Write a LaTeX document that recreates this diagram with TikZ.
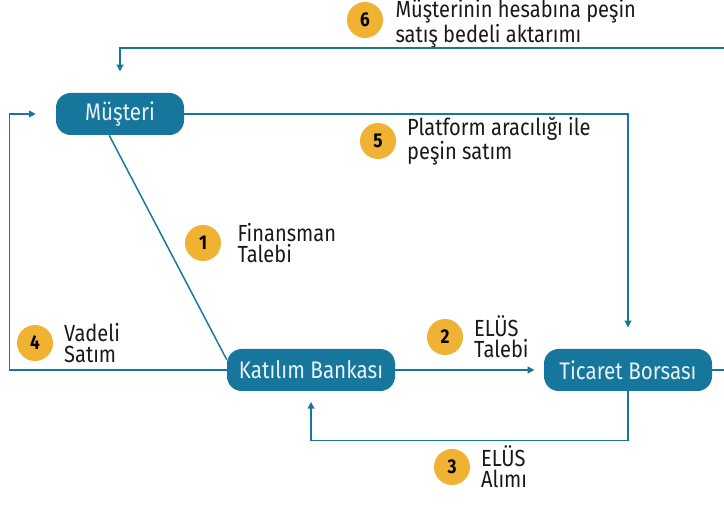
\documentclass[tikz,border=0pt]{standalone}
\usepackage{fontspec}
\setmainfont{Fira Sans}[FakeStretch=0.86]
\usepackage{xcolor}
\usetikzlibrary{positioning,arrows.meta}
\definecolor{petrol}{HTML}{16769B}
\definecolor{sun}{HTML}{F0B233}
\begin{document}
\begin{tikzpicture}[x=0.75pt,y=-0.75pt,node distance=8pt,
  actor/.style={fill=petrol,rounded corners=11pt,text=white!90!petrol,minimum height=31.5pt,inner xsep=0pt,font=\fontsize{18}{20}\selectfont},
  num/.style={circle,fill=sun,minimum size=27pt,inner sep=0pt,font=\fontsize{15}{15}\selectfont\bfseries},
  note/.style={align=left,inner sep=0pt,text=black!90,font=\fontsize{17.5}{15.8}\selectfont},
  flow/.style={draw=petrol,line width=1.1pt,-{Triangle[length=5pt,width=5pt]}}]
\useasboundingbox (0,0) rectangle (724,505);
\node[actor,minimum width=96pt] (mus) at (120,114) {Müşteri};
\node[actor,minimum width=126pt] (kb) at (311,370) {Katılım Bankası};
\node[actor,minimum width=126pt] (tb) at (628,370) {Ticaret Borsası};
\node[num] (n1) at (203,243) {1};
\node[note,right=12pt of n1] (t1) {Finansman\\Talebi};
\node[num] (n2) at (445,337) {2};
\node[note,right=of n2] (t2) {ELÜS\\Talebi};
\node[num] (n3) at (452,467) {3};
\node[note,right=of n3] (t3) {ELÜS\\Alımı};
\node[num] (n4) at (35,343) {4};
\node[note,right=of n4] (t4) {Vadeli\\Satım};
\node[num] (n5) at (378,141) {5};
\node[note,right=of n5] (t5) {Platform aracılığı ile\\peşin satım};
\node[num] (n6) at (365,20) {6};
\node[note,right=9pt of n6,yshift=-2.5pt,font=\fontsize{17.5}{15}\selectfont] (t6) {Müşterinin hesabına peşin\\satış bedeli aktarımı};
\draw[flow,-] (mus.-117) -- (kb.173);
\draw[flow,shorten >=7pt] (kb.east) -- (tb.west);
\draw[flow,shorten >=8pt] (tb.south) -- ++(0,49) -| (kb.south);
\draw[flow,shorten >=15pt] (kb.west) -- ++(-217,0) |- (mus.west);
\draw[flow,shorten >=16pt] (mus.east) -| (tb.north);
\draw[flow,shorten >=16pt] (tb.east) -- ++(30,0) -- ++(0,-322) -| (mus.north);
\end{tikzpicture}
\end{document}
